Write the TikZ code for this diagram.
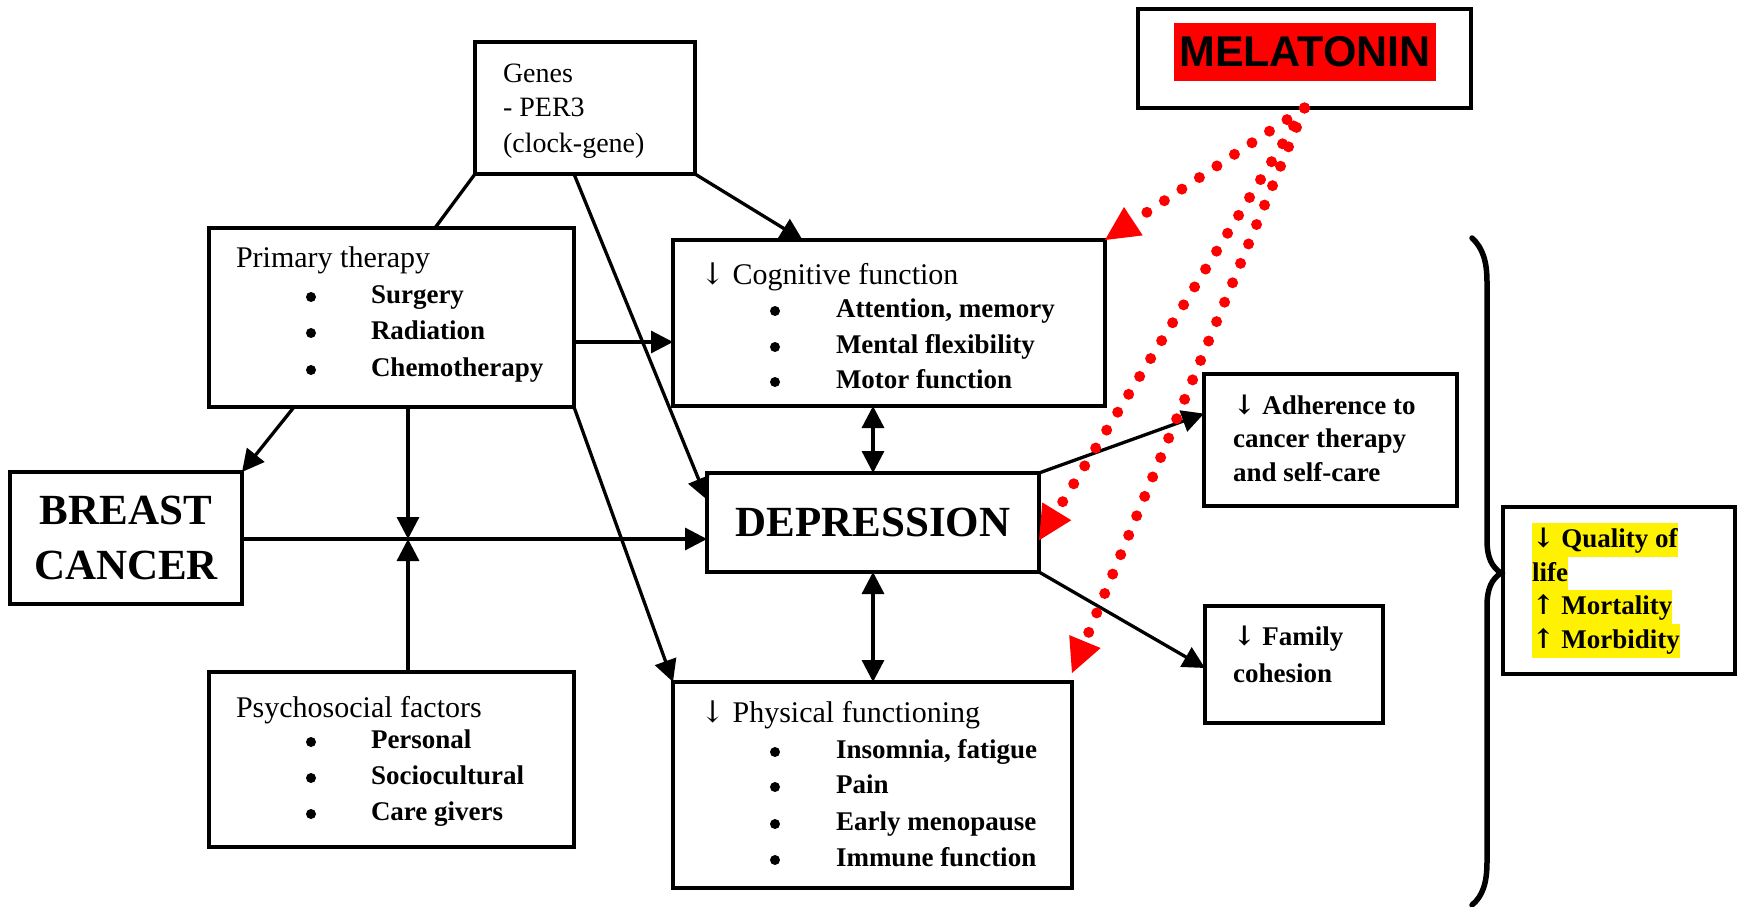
\documentclass[tikz,border=0pt]{standalone}
\usepackage{fontspec}
\setmainfont{Liberation Serif}
\newfontfamily\melfont{Liberation Sans}
\newfontfamily\arrfont{DejaVu Serif}
\newcommand{\dn}{{\arrfont ↓}}
\newcommand{\up}{{\arrfont ↑}}
\usetikzlibrary{arrows.meta,calc}
\begin{document}
\begin{tikzpicture}[x=1pt,y=-1pt,
  box/.style={draw,line width=3.3pt,fill=white,inner sep=0pt,outer sep=0pt},
  tx/.style={anchor=west,inner sep=0pt,outer sep=0pt},
  ttl/.style={tx,font=\fontsize{30}{36}\selectfont,text height=21pt,text depth=6pt},
  itm/.style={tx,font=\bfseries\fontsize{27}{32}\selectfont,text height=19pt,text depth=6pt},
  gtx/.style={tx,font=\fontsize{28}{34}\selectfont,text height=20pt,text depth=6pt},
  hl/.style={tx,fill=yellow,font=\bfseries\fontsize{27}{32}\selectfont,text height=24pt,text depth=9.5pt},
  arr/.style={line width=3.3pt,-{Triangle[length=22pt,width=22pt]}},
  darr/.style={line width=3.3pt,{Triangle[length=22pt,width=22pt]}-{Triangle[length=22pt,width=22pt]}},
  ln/.style={line width=3.3pt},
  reddots/.style={red,line width=11pt,line cap=round,dash pattern=on 0pt off 21pt,-{Triangle[length=34pt,width=34pt,line width=0pt]}},
]
\useasboundingbox (0,0) rectangle (1741,907);

% ---------- boxes ----------
\node[box,minimum width=333pt,minimum height=99pt] (mel) at (1304.5,58.5) {};
\node[fill=red,inner sep=0pt,minimum width=262pt,minimum height=58pt,font=\melfont\bfseries\fontsize{43}{43}\selectfont] (meltxt) at (1305,52) {MELATONIN};

\node[box,minimum width=220pt,minimum height=132pt] (genes) at (585,108) {};
\node[gtx] (g1) at (503,75) {Genes};
\node[gtx] (g2) at (503,110) {- PER3};
\node[gtx] (g3) at (503,145) {(clock-gene)};

\node[box,minimum width=365pt,minimum height=179pt] (prim) at (391.5,317.5) {};
\node[ttl] (p0) at (236,260) {Primary therapy};
\node[itm] (p1) at (371,297) {Surgery};
\node[itm] (p2) at (371,333) {Radiation};
\node[itm] (p3) at (371,370) {Chemotherapy};
\foreach \yy in {297,333,370} \fill (311,\yy) circle (5pt);

\node[box,minimum width=232pt,minimum height=132pt,align=center,font=\bfseries\fontsize{43}{55}\selectfont] (bc) at (126,538) {BREAST\\CANCER};

\node[box,minimum width=365pt,minimum height=175pt] (psy) at (391.5,759.5) {};
\node[ttl] (s0) at (236,710) {Psychosocial factors};
\node[itm] (s1) at (371,742) {Personal};
\node[itm] (s2) at (371,778) {Sociocultural};
\node[itm] (s3) at (371,814) {Care givers};
\foreach \yy in {742,778,814} \fill (311,\yy) circle (5pt);

\node[box,minimum width=432pt,minimum height=166pt] (cog) at (889,323) {};
\node[ttl] (c0) at (700,277) {\dn\ Cognitive function};
\node[itm] (c1) at (836,311) {Attention, memory};
\node[itm] (c2) at (836,347) {Mental flexibility};
\node[itm] (c3) at (836,382) {Motor function};
\foreach \yy in {311,347,382} \fill (775,\yy) circle (5pt);

\node[box,minimum width=332pt,minimum height=99pt,font=\bfseries\fontsize{43}{50}\selectfont] (dep) at (873,522.5) {DEPRESSION};

\node[box,minimum width=399pt,minimum height=206pt] (phy) at (872.5,785) {};
\node[ttl] (f0) at (700,715) {\dn\ Physical functioning};
\node[itm] (f1) at (836,752) {Insomnia, fatigue};
\node[itm] (f2) at (836,787) {Pain};
\node[itm] (f3) at (836,824) {Early menopause};
\node[itm] (f4) at (836,860) {Immune function};
\foreach \yy in {752,787,824,860} \fill (775,\yy) circle (5pt);

\node[box,minimum width=253pt,minimum height=132pt] (adh) at (1330.5,440) {};
\node[itm] (a1) at (1233,408) {\dn\ Adherence to};
\node[itm] (a2) at (1233,441) {cancer therapy};
\node[itm] (a3) at (1233,475) {and self-care};

\node[box,minimum width=178pt,minimum height=117pt] (fam) at (1294,664.5) {};
\node[itm] (m1) at (1233,639) {\dn\ Family};
\node[itm] (m2) at (1233,676) {cohesion};

\node[box,minimum width=232pt,minimum height=167pt] (qol) at (1619,590.5) {};
\node[hl] (q1) at (1532,540) {\dn\ Quality of};
\node[hl] (q2) at (1532,574) {life};
\node[hl] (q3) at (1532,607) {\up\ Mortality};
\node[hl] (q4) at (1532,641) {\up\ Morbidity};

% brace
\draw[line width=5.5pt,line cap=round] (1472,238) .. controls (1483,248) and (1487,262) .. (1487,282) -- (1487,540) .. controls (1487,558) and (1492,567) .. (1501,573) .. controls (1492,579) and (1487,588) .. (1487,606) -- (1487,862) .. controls (1487,882) and (1483,896) .. (1472,905);

% ---------- black connectors ----------
\coordinate (jn) at (408,539);
\coordinate (h1) at (0,342);
\draw[ln] (genes.south west) -- ($(prim.north west)!0.619!(prim.north east)$);
\draw[arr] (genes.south east) -- ($(cog.north west)!0.30!(cog.north east)$);
\draw[arr] ($(genes.south west)!0.45!(genes.south east)$) -- ($(dep.north west)!0.27!(dep.south west)$);
\draw[arr] (prim.east |- h1) -- (cog.west |- h1);
\draw[arr] ($(prim.south west)!0.233!(prim.south east)$) -- (bc.north east);
\draw[arr] (prim.south -| jn) -- (jn);
\draw[arr] (psy.north -| jn) -- (jn);
\draw[arr] (bc.east |- jn) -- (dep.west |- jn);
\draw[arr] (prim.south east) -- (phy.north west);
\draw[darr] (dep.north) -- (dep.north |- cog.south);
\draw[darr] (dep.south) -- (dep.south |- phy.north);
\draw[arr] (dep.north east) -- ($(adh.north west)!0.3!(adh.south west)$);
\draw[arr] (dep.south east) -- ($(fam.north west)!0.53!(fam.south west)$);

% ---------- melatonin dotted arrows ----------
\coordinate (t3) at ($(phy.north east)+(0,-9)$);
\draw[reddots] (mel.south) -- (cog.north east);
\draw[reddots] (mel.south) -- ($(dep.north east)!0.68!(dep.south east)$);
\draw[reddots] (mel.south) -- (t3);
\end{tikzpicture}
\end{document}
